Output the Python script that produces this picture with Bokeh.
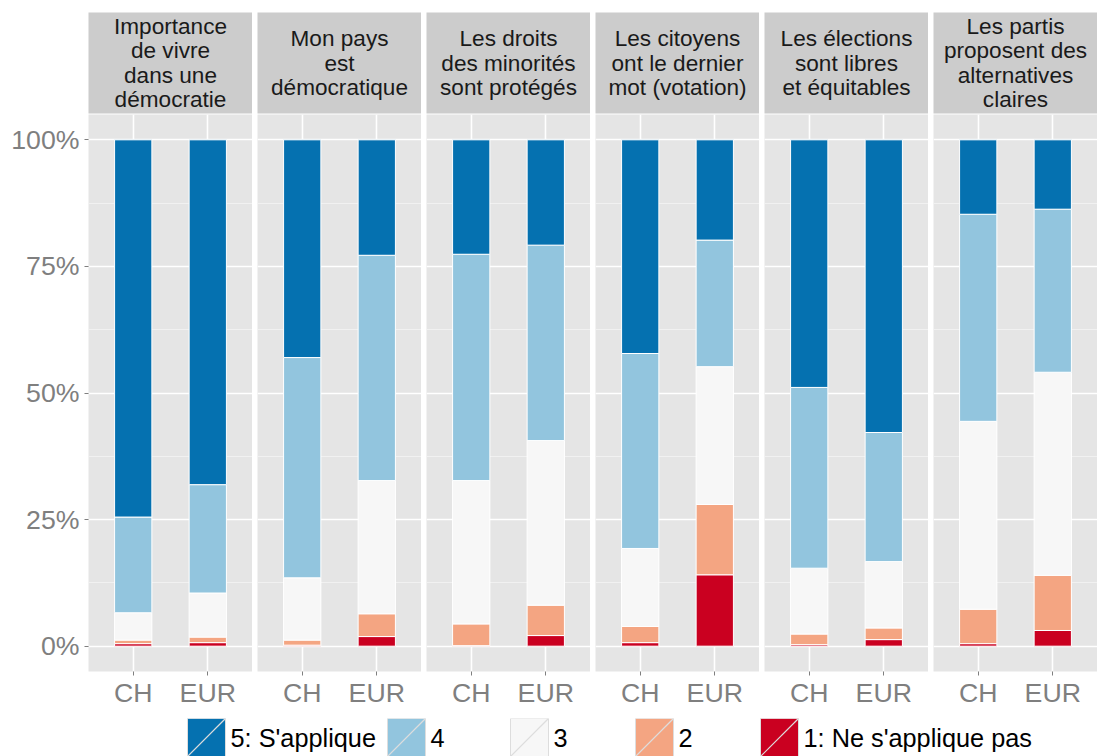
from bokeh.plotting import figure
from bokeh.models import ColumnDataSource, FactorRange, Range1d, FixedTicker, NumeralTickFormatter
from bokeh.layouts import column, row
from bokeh.embed import file_html
from bokeh.resources import INLINE
from bokeh.core.properties import value

# ---------------- data ----------------
facets = [
    "Importance\nde vivre\ndans une\ndémocratie",
    "Mon pays\nest\ndémocratique",
    "Les droits\ndes minorités\nsont protégés",
    "Les citoyens\nont le dernier\nmot (votation)",
    "Les élections\nsont libres\net équitables",
    "Les partis\nproposent des\nalternatives\nclaires",
]
groups = ["CH", "EUR"]
levels = ["5: S'applique", "4", "3", "2", "1: Ne s'applique pas"]
level_colors = ["#0571B0", "#92C5DE", "#F7F7F7", "#F4A582", "#CA0020"]

# percentages per facet: [CH, EUR]
lvl1 = [[0.5, 0.7], [0.2, 1.9], [0.1, 2.1], [0.7, 14.1], [0.3, 1.3], [0.5, 3.1]]
lvl2 = [[0.7, 1.1], [1.0, 4.5], [4.3, 6.0], [3.2, 13.9], [2.1, 2.3], [6.8, 10.9]]
lvl3 = [[5.4, 8.7], [12.3, 26.3], [28.3, 32.5], [15.4, 27.2], [13.0, 13.1], [37.1, 40.1]]
lvl4 = [[18.9, 21.4], [43.5, 44.5], [44.7, 38.6], [38.5, 25.0], [35.7, 25.5], [40.9, 32.2]]
lvl5 = [[74.5, 68.1], [43.0, 22.8], [22.6, 20.8], [42.2, 19.8], [48.9, 57.8], [14.7, 13.7]]

# ---------------- style / layout ----------------
FONT = value("Liberation Sans")
GREY50 = "#7F7F7F"
PANEL_BG = "#E5E5E5"
STRIP_BG = "#CCCCCC"
LEFT = 88
PW = 164
GAP = 5
STRIP_TOP = 12
STRIP_H = 114
PANEL_H = 604
BOTTOM = 47
LEG_H = 38

strip_figs = []
panel_figs = []
stack_names = ["l1", "l2", "l3", "l4", "l5"]
stack_colors = level_colors[::-1]  # bottom (1) -> top (5)

for i, lab in enumerate(facets):
    first = i == 0
    w = (LEFT + PW) if first else (GAP + PW)
    bl = LEFT if first else GAP

    # strip
    s = figure(width=w, height=STRIP_H, x_range=Range1d(0, 1), y_range=Range1d(0, 1),
               toolbar_location=None, output_backend="svg",
               x_axis_location=None, y_axis_location=None,
               min_border_left=bl, min_border_right=0,
               min_border_top=STRIP_TOP, min_border_bottom=1)
    s.background_fill_color = STRIP_BG
    s.border_fill_color = "white"
    s.outline_line_color = None
    s.grid.grid_line_color = None
    s.text(x=[0.5], y=[0.5], text=[lab], text_align="center", text_baseline="middle",
           text_font=FONT, text_font_size="22.6px", text_color="#1A1A1A", text_line_height=0.97)
    strip_figs.append(s)

    # panel
    src = ColumnDataSource(dict(
        cat=groups,
        l1=[v / 100 for v in lvl1[i]],
        l2=[v / 100 for v in lvl2[i]],
        l3=[v / 100 for v in lvl3[i]],
        l4=[v / 100 for v in lvl4[i]],
        l5=[v / 100 for v in lvl5[i]],
    ))
    p = figure(width=w, height=PANEL_H,
               x_range=FactorRange(factors=groups, range_padding=0.1, range_padding_units="percent"),
               y_range=Range1d(-0.05, 1.05),
               toolbar_location=None, output_backend="svg",
               y_axis_location="left" if first else None,
               min_border_left=bl, min_border_right=0, min_border_top=0, min_border_bottom=BOTTOM)
    p.background_fill_color = PANEL_BG
    p.border_fill_color = "white"
    p.outline_line_color = None

    p.ygrid.ticker = FixedTicker(ticks=[0, 0.25, 0.5, 0.75, 1.0],
                                 minor_ticks=[0.125, 0.375, 0.625, 0.875])
    p.ygrid.grid_line_color = "white"
    p.ygrid.grid_line_width = 1.6
    p.ygrid.minor_grid_line_color = "#F2F2F2"
    p.ygrid.minor_grid_line_width = 0.9
    p.xgrid.grid_line_color = "white"
    p.xgrid.grid_line_width = 1.6

    p.vbar_stack(stack_names, x="cat", width=0.5, source=src,
                 fill_color=stack_colors, line_color="white", line_width=1)

    xa = p.xaxis[0]
    xa.axis_line_color = None
    xa.major_tick_line_color = GREY50
    xa.major_tick_out = 4
    xa.major_tick_in = 0
    xa.major_label_standoff = 2
    xa.major_label_text_font = "Liberation Sans"
    xa.major_label_text_font_size = "26.7px"
    xa.major_label_text_color = GREY50

    if first:
        ya = p.yaxis[0]
        ya.ticker = FixedTicker(ticks=[0, 0.25, 0.5, 0.75, 1.0], minor_ticks=[])
        ya.formatter = NumeralTickFormatter(format="0%")
        ya.axis_line_color = None
        ya.major_tick_line_color = GREY50
        ya.major_tick_out = 4
        ya.major_tick_in = 0
        ya.minor_tick_line_color = None
        ya.major_label_standoff = 5
        ya.major_label_text_font = "Liberation Sans"
        ya.major_label_text_font_size = "26.7px"
        ya.major_label_text_color = GREY50
    panel_figs.append(p)

# ---------------- legend ----------------
LW = LEFT + 6 * PW + 5 * GAP
leg = figure(width=LW, height=LEG_H, x_range=Range1d(0, LW), y_range=Range1d(0, LEG_H),
             toolbar_location=None, output_backend="svg",
             x_axis_location=None, y_axis_location=None,
             min_border_left=0, min_border_right=0, min_border_top=0, min_border_bottom=0)
leg.outline_line_color = None
leg.grid.grid_line_color = None
key_x = [187, 387, 510, 635, 760]
KEY = 38
leg.quad(left=key_x, right=[k + KEY for k in key_x], bottom=[0] * 5, top=[KEY] * 5,
         fill_color=level_colors, line_color="#DDDDDD", line_width=1)
leg.segment(x0=key_x, y0=[0] * 5, x1=[k + KEY for k in key_x], y1=[KEY] * 5,
            line_color="#DDDDDD", line_width=1.2)
leg.text(x=[k + KEY + 5 for k in key_x], y=[KEY / 2] * 5, text=levels,
         text_align="left", text_baseline="middle", text_font=FONT,
         text_font_size="25.3px", text_color="black")

layout = column(row(*strip_figs, spacing=0), row(*panel_figs, spacing=0), leg, spacing=0)

open("out.html", "w").write(file_html(layout, INLINE))
